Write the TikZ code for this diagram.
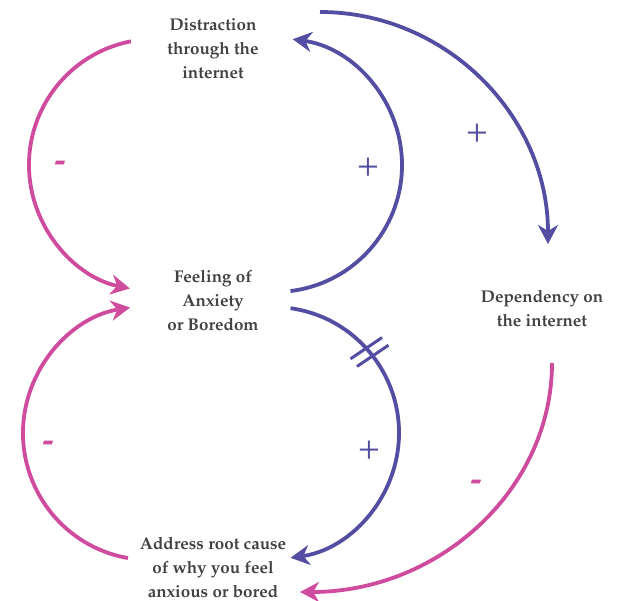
\documentclass[tikz,border=0pt]{standalone}
\usepackage[T1]{fontenc}
\renewcommand{\rmdefault}{ppl}
\usetikzlibrary{arrows.meta,calc}
\definecolor{loopblue}{RGB}{84,78,163}
\definecolor{looppink}{RGB}{207,75,158}
\definecolor{labelgray}{RGB}{66,66,66}
\begin{document}
\begin{tikzpicture}[x=1pt,y=1pt,
  varlabel/.style={align=center,text=labelgray,inner sep=0pt,
    font=\fontsize{17}{24}\selectfont\bfseries},
  link/.style={line width=3.8pt,-{Stealth[length=19pt,width=20pt,inset=6pt]}},
  plainline/.style={line width=3.6pt},
  possign/.style={text=loopblue,inner sep=0pt,font=\fontsize{36}{36}\selectfont},
  negsign/.style={text=looppink,inner sep=0pt,font=\fontsize{34}{34}\selectfont\bfseries}]
  \useasboundingbox (0,0) rectangle (618,-601);

  % variables
  \node[varlabel] (distraction) at (213,-49) {Distraction\\through the\\internet};
  \node[varlabel] (feeling) at (213,-300) {Feeling of\\Anxiety\\or Boredom};
  \node[varlabel] (dependency) at (542,-308) {Dependency on\\the internet};
  \node[varlabel] (address) at (213,-567) {Address root cause\\of why you feel\\anxious or bored};

  % loop centres
  \coordinate (cTL) at (155,-165);
  \coordinate (cBL) at (150,-433);
  \coordinate (cTR) at (275,-165);
  \coordinate (cBR) at (273,-433);

  % distraction -> feeling (negative)
  \draw[link,looppink] ($(cTL)+(101:126)$) coordinate (dfStart)
    arc[start angle=101,end angle=258.5,radius=126] coordinate (dfEnd);
  % address -> feeling (negative)
  \draw[link,looppink] ($(cBL)+(260:127)$) coordinate (afStart)
    arc[start angle=260,end angle=99,radius=127] coordinate (afEnd);
  % feeling -> distraction (positive)
  \draw[link,loopblue] ($(cTR)+(-83:127)$) coordinate (fdStart)
    arc[start angle=-83,end angle=82,radius=127] coordinate (fdEnd);
  % feeling -> address (positive, delayed)
  \draw[link,loopblue] ($(cBR)+(82:126)$) coordinate (faStart)
    arc[start angle=82,end angle=-82,radius=126] coordinate (faEnd);
  % distraction -> dependency (positive)
  \draw[link,loopblue] (320,-12) coordinate (ddStart)
    arc[start angle=90,end angle=0,x radius=228,y radius=232] coordinate (ddEnd);
  % dependency -> address (negative)
  \draw[link,looppink] (552,-363) coordinate (daStart)
    arc[start angle=0,end angle=-90,x radius=252,y radius=229] coordinate (daEnd);

  % delay mark
  \coordinate (delay) at ($(cBR)+(40:126)$);
  \draw[plainline,loopblue,line width=3pt]
    ($(delay)+(130:5)+(34:-19)$) -- ($(delay)+(130:5)+(34:19)$);
  \draw[plainline,loopblue,line width=3pt]
    ($(delay)+(-50:5)+(34:-19)$) -- ($(delay)+(-50:5)+(34:19)$);

  % polarities
  \node[negsign] (sTL) at (60,-166) {-};
  \node[negsign] (sBL) at (48,-446) {-};
  \node[negsign] (sR) at (476,-485) {-};
  \node[possign] (sTR) at (368,-167) {+};
  \node[possign] (sBR) at (369,-450) {+};
  \node[possign] (sBig) at (477,-133) {+};
\end{tikzpicture}
\end{document}
